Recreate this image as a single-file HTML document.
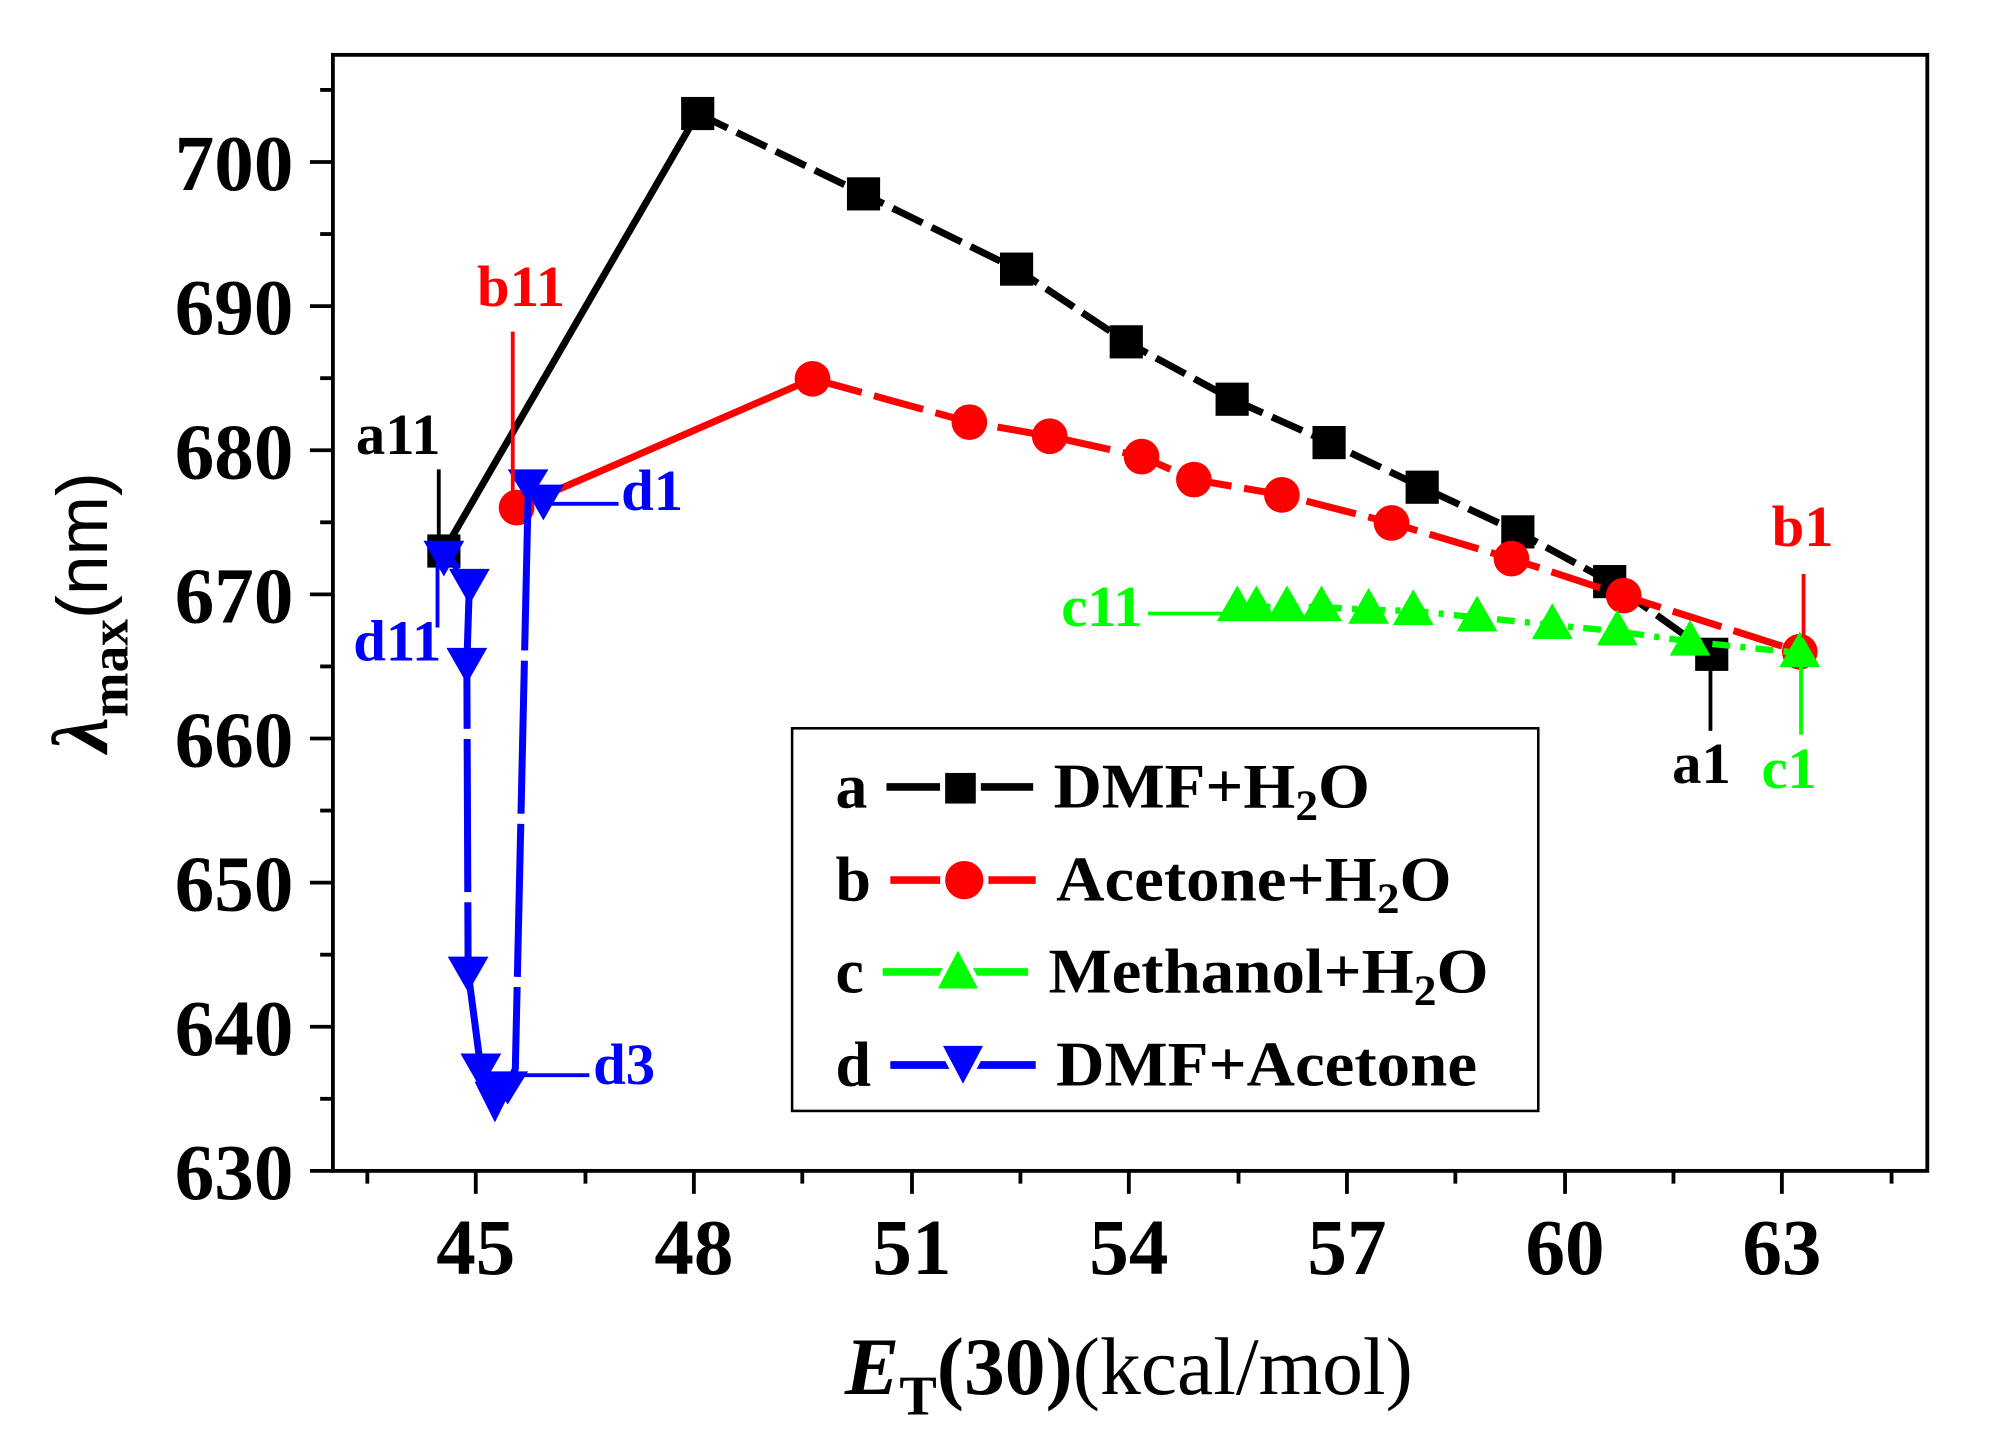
<!DOCTYPE html>
<html><head><meta charset="utf-8"><style>
html,body{margin:0;padding:0;background:#fff;}
svg{display:block;}
text{font-family:"Liberation Serif",serif;}
</style></head><body>
<svg width="2000" height="1440" viewBox="0 0 1568 1129" preserveAspectRatio="none" xmlns="http://www.w3.org/2000/svg">
<rect x="0" y="0" width="1568" height="1129" fill="#fff"/>
<rect x="261" y="43" width="1250" height="875" fill="none" stroke="#000" stroke-width="3"/>
<g stroke="#000" stroke-width="3">
<line x1="243" y1="918" x2="261" y2="918"/><line x1="251" y1="861.5" x2="261" y2="861.5"/>
<line x1="243" y1="805" x2="261" y2="805"/><line x1="251" y1="748.5" x2="261" y2="748.5"/>
<line x1="243" y1="692" x2="261" y2="692"/><line x1="251" y1="635.5" x2="261" y2="635.5"/>
<line x1="243" y1="579" x2="261" y2="579"/><line x1="251" y1="522.5" x2="261" y2="522.5"/>
<line x1="243" y1="466" x2="261" y2="466"/><line x1="251" y1="409.5" x2="261" y2="409.5"/>
<line x1="243" y1="353" x2="261" y2="353"/><line x1="251" y1="296.5" x2="261" y2="296.5"/>
<line x1="243" y1="240" x2="261" y2="240"/><line x1="251" y1="183.5" x2="261" y2="183.5"/>
<line x1="243" y1="127" x2="261" y2="127"/><line x1="251" y1="70.5" x2="261" y2="70.5"/>
<line x1="288" y1="918" x2="288" y2="928"/><line x1="373" y1="918" x2="373" y2="936"/>
<line x1="459" y1="918" x2="459" y2="928"/><line x1="544" y1="918" x2="544" y2="936"/>
<line x1="629" y1="918" x2="629" y2="928"/><line x1="715" y1="918" x2="715" y2="936"/>
<line x1="800" y1="918" x2="800" y2="928"/><line x1="885" y1="918" x2="885" y2="936"/>
<line x1="971" y1="918" x2="971" y2="928"/><line x1="1056" y1="918" x2="1056" y2="936"/>
<line x1="1141" y1="918" x2="1141" y2="928"/><line x1="1227" y1="918" x2="1227" y2="936"/>
<line x1="1312" y1="918" x2="1312" y2="928"/><line x1="1397" y1="918" x2="1397" y2="936"/>
<line x1="1483" y1="918" x2="1483" y2="928"/>
</g>
<g font-weight="bold" font-size="62" text-anchor="end">
<text x="230" y="940">630</text><text x="230" y="827">640</text><text x="230" y="714">650</text>
<text x="230" y="601">660</text><text x="230" y="488">670</text><text x="230" y="375">680</text>
<text x="230" y="262">690</text><text x="230" y="149">700</text>
</g>
<g font-weight="bold" font-size="62" text-anchor="middle">
<text x="373" y="999">45</text><text x="544" y="999">48</text><text x="715" y="999">51</text>
<text x="885" y="999">54</text><text x="1056" y="999">57</text><text x="1227" y="999">60</text>
<text x="1397" y="999">63</text>
</g>
<text x="885" y="1093" text-anchor="middle" font-size="64"><tspan font-style="italic" font-weight="bold">E</tspan><tspan font-weight="bold" font-size="44" dy="16">T</tspan><tspan font-weight="bold" dy="-16">(30)</tspan>(kcal/mol)</text>
<text transform="translate(84,480) rotate(-90)" text-anchor="middle" font-size="62"><tspan font-style="italic" font-weight="bold">λ</tspan><tspan font-weight="bold" font-size="42" dy="16">max</tspan><tspan dy="-16" font-family="Liberation Sans,sans-serif" font-size="56">(nm)</tspan></text>

<polyline points="348,432 547,89" fill="none" stroke="#000" stroke-width="5.5"/>
<polyline points="547,89 677,152 797,211 883,268 966,313 1042,347 1115,382 1190,417 1262,456 1342,513" fill="none" stroke="#000" stroke-width="5.5" stroke-dasharray="26,8"/>
<g fill="#000">
<rect x="335" y="419" width="26" height="26"/><rect x="534" y="76" width="26" height="26"/>
<rect x="664" y="139" width="26" height="26"/><rect x="784" y="198" width="26" height="26"/>
<rect x="870" y="255" width="26" height="26"/><rect x="953" y="300" width="26" height="26"/>
<rect x="1029" y="334" width="26" height="26"/><rect x="1102" y="369" width="26" height="26"/>
<rect x="1177" y="404" width="26" height="26"/><rect x="1249" y="443" width="26" height="26"/>
<rect x="1329" y="500" width="26" height="26"/>
</g>
<polyline points="405,398 637,297" fill="none" stroke="#f00" stroke-width="5.5"/>
<polyline points="637,297 760,331 823,342 895,358 936,376 1005,388 1091,410 1185,438 1273,467 1411,511" fill="none" stroke="#f00" stroke-width="5.5" stroke-dasharray="40,10"/>
<g fill="#f00">
<circle cx="405" cy="398" r="14"/><circle cx="637" cy="297" r="14"/><circle cx="760" cy="331" r="14"/>
<circle cx="823" cy="342" r="14"/><circle cx="895" cy="358" r="14"/><circle cx="936" cy="376" r="14"/>
<circle cx="1005" cy="388" r="14"/><circle cx="1091" cy="410" r="14"/><circle cx="1185" cy="438" r="14"/>
<circle cx="1273" cy="467" r="14"/><circle cx="1411" cy="511" r="14"/>
</g>
<polyline points="970,476 1036,476 1073,478 1108,479 1158,484 1217,490 1268,495 1325,503 1411,512" fill="none" stroke="#0f0" stroke-width="5" stroke-dasharray="14,8,4,8"/>
<g fill="#0f0">
<polygon points="970,459 954,487 986,487"/><polygon points="985,459 969,487 1001,487"/>
<polygon points="1009,459 993,487 1025,487"/><polygon points="1036,459 1020,487 1052,487"/>
<polygon points="1073,461 1057,489 1089,489"/><polygon points="1108,462 1092,490 1124,490"/>
<polygon points="1158,467 1142,495 1174,495"/><polygon points="1217,473 1201,501 1233,501"/>
<polygon points="1268,478 1252,506 1284,506"/><polygon points="1325,486 1309,514 1341,514"/>
<polygon points="1411,495 1395,523 1427,523"/>
</g>
<polyline points="414,390 404,838 398,852 388,860 377,838 367,762 366,520 368,458 348,432" fill="none" stroke="#00f" stroke-width="5.5" stroke-dasharray="120,8"/>
<g fill="#00f">
<polygon points="398,368 430,368 414,394"/><polygon points="410,380 442,380 426,408"/>
<polygon points="332,424 364,424 348,452"/>
<polygon points="352,446 384,446 368,474"/><polygon points="350,508 382,508 366,536"/>
<polygon points="351,750 383,750 367,778"/><polygon points="361,826 393,826 377,854"/>
<polygon points="372,848 404,848 388,880"/><polygon points="382,840 414,840 398,866"/>
<polygon points="376,843 402,843 389,870"/>
</g>
<g stroke-width="3">
<line x1="344" y1="368" x2="344" y2="420" stroke="#000"/>
<line x1="402" y1="260" x2="402" y2="390" stroke="#f00"/>
<line x1="420" y1="395" x2="485" y2="395" stroke="#00f"/>
<line x1="343" y1="432" x2="343" y2="492" stroke="#00f"/>
<line x1="398" y1="843" x2="462" y2="843" stroke="#00f"/>
<line x1="900" y1="481" x2="968" y2="481" stroke="#0f0"/>
<line x1="1414" y1="450" x2="1414" y2="500" stroke="#f00"/>
<line x1="1341" y1="522" x2="1341" y2="573" stroke="#000"/>
<line x1="1412" y1="522" x2="1412" y2="576" stroke="#0f0"/>
</g>
<g font-weight="bold" font-size="46">
<text x="279" y="356" fill="#000">a11</text>
<text x="374" y="240" fill="#f00">b11</text>
<text x="487" y="400" fill="#00f">d1</text>
<text x="277" y="518" fill="#00f">d11</text>
<text x="465" y="850" fill="#00f">d3</text>
<text x="832" y="491" fill="#0f0">c11</text>
<text x="1389" y="428" fill="#f00">b1</text>
<text x="1311" y="614" fill="#000">a1</text>
<text x="1381" y="618" fill="#0f0">c1</text>
</g>
<rect x="621" y="571" width="585" height="300" fill="#fff" stroke="#000" stroke-width="2"/>
<g font-weight="bold" font-size="50">
<text x="655" y="633">a</text><text x="655" y="706">b</text><text x="655" y="778">c</text><text x="655" y="851">d</text>
<text x="826" y="633" textLength="248" lengthAdjust="spacingAndGlyphs">DMF+H<tspan font-size="34" dy="10">2</tspan><tspan dy="-10">O</tspan></text>
<text x="828" y="706" textLength="310" lengthAdjust="spacingAndGlyphs">Acetone+H<tspan font-size="34" dy="10">2</tspan><tspan dy="-10">O</tspan></text>
<text x="822" y="778" textLength="345" lengthAdjust="spacingAndGlyphs">Methanol+H<tspan font-size="34" dy="10">2</tspan><tspan dy="-10">O</tspan></text>
<text x="828" y="851" textLength="330" lengthAdjust="spacingAndGlyphs">DMF+Acetone</text>
</g>
<g stroke-width="6">
<line x1="695" y1="617" x2="810" y2="617" stroke="#000"/>
<line x1="698" y1="690" x2="812" y2="690" stroke="#f00"/>
<line x1="692" y1="762" x2="806" y2="762" stroke="#0f0"/>
<line x1="698" y1="835" x2="812" y2="835" stroke="#00f"/>
</g>
<rect x="739" y="604" width="28" height="28" fill="#000" stroke="#fff" stroke-width="4"/>
<circle cx="756" cy="690" r="17" fill="#f00" stroke="#fff" stroke-width="4"/>
<polygon points="751,741 732,777 770,777" fill="#0f0" stroke="#fff" stroke-width="4"/>
<polygon points="736,818 774,818 755,854" fill="#00f" stroke="#fff" stroke-width="4"/>
</svg>
</body></html>
